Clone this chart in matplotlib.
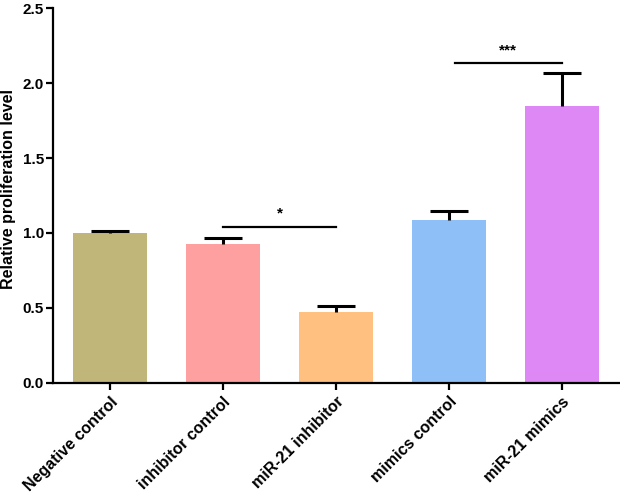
import matplotlib
matplotlib.use('Agg')
import matplotlib.pyplot as plt

# ---------------------------------------------------------------------------
# Data
# ---------------------------------------------------------------------------
groups = ['Negative control', 'inhibitor control', 'miR-21 inhibitor',
          'mimics control', 'miR-21 mimics']
means = [1.00, 0.926, 0.471, 1.086, 1.849]
errors = [0.015, 0.038, 0.042, 0.058, 0.22]
colors = ['#C0B67A', '#FFA0A0', '#FFC080', '#8FBFF7', '#DD88F5']

# significance brackets: (left group, right group, y, label)
sig_pairs = [(1, 2, 1.041, '*'), (3.05, 4, 2.131, '***')]

plt.rcParams['font.family'] = ['Liberation Sans', 'DejaVu Sans']
plt.rcParams['font.weight'] = 'bold'

fig = plt.figure(figsize=(6.2, 4.95), dpi=100)
ax = fig.add_axes([0.0855, 0.2263, 0.914, 0.7575])

x = list(range(len(groups)))
ax.bar(x, means, width=0.66, color=colors, zorder=2)
# upper error bars only (Prism style)
_, caps, _ = ax.errorbar(x, means, yerr=[[0] * len(errors), errors],
                         fmt='none', ecolor='black', elinewidth=2.2,
                         capsize=14, capthick=2.2, zorder=3)
caps[0].set_visible(False)

for x0, x1, y, label in sig_pairs:
    ax.plot([x0, x1], [y, y], color='black', lw=1.6)
    ax.text((x0 + x1) / 2, y + 0.04, label, ha='center', va='bottom',
            fontsize=11, fontweight='bold')

ax.set_xlim(-0.505, 4.51)
ax.set_ylim(0, 2.5)
ax.set_yticks([0, 0.5, 1.0, 1.5, 2.0, 2.5])
ax.set_yticklabels(['0.0', '0.5', '1.0', '1.5', '2.0', '2.5'])
ax.set_xticks(x)
ax.set_xticklabels(groups, rotation=45, ha='right', rotation_mode='anchor',
                   fontsize=11.5)

ax.spines['top'].set_visible(False)
ax.spines['right'].set_visible(False)
ax.spines['left'].set_linewidth(1.6)
ax.spines['bottom'].set_linewidth(1.6)
ax.tick_params(axis='both', direction='out', width=1.6, length=5,
               labelsize=11, pad=1.5)
ax.tick_params(axis='x', labelsize=11.5, pad=3)

ax.set_ylabel('Relative proliferation level', fontsize=11.5,
              fontweight='bold')
ax.yaxis.set_label_coords(-0.065, 0.517)

fig.savefig('out.png', dpi=100)
